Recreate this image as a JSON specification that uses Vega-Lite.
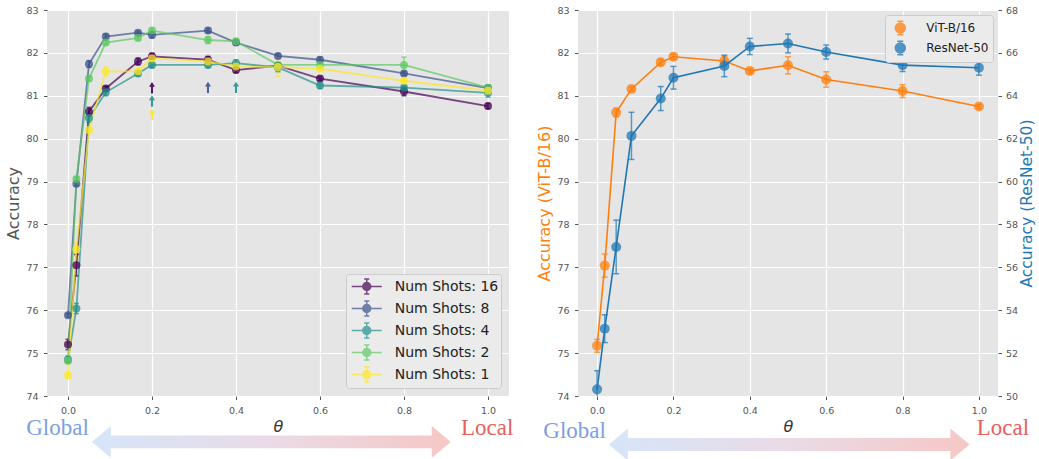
{
  "$schema": "https://vega.github.io/schema/vega-lite/v6.json",
  "background": "white",
  "padding": {"left": 5, "top": 5, "right": 0, "bottom": 0},
  "spacing": 22,
  "datasets": {
    "shots": [
      {"theta": 0, "acc": 75.2, "err": 0.12, "shots": "Num Shots: 16"},
      {"theta": 0.02, "acc": 77.05, "err": 0.25, "shots": "Num Shots: 16"},
      {"theta": 0.05, "acc": 80.63, "err": 0.1, "shots": "Num Shots: 16"},
      {"theta": 0.09, "acc": 81.17, "err": 0.05, "shots": "Num Shots: 16"},
      {"theta": 0.1667, "acc": 81.8, "err": 0.08, "shots": "Num Shots: 16"},
      {"theta": 0.2, "acc": 81.92, "err": 0.07, "shots": "Num Shots: 16"},
      {"theta": 0.3333, "acc": 81.84, "err": 0.08, "shots": "Num Shots: 16"},
      {"theta": 0.4, "acc": 81.6, "err": 0.06, "shots": "Num Shots: 16"},
      {"theta": 0.5, "acc": 81.7, "err": 0.07, "shots": "Num Shots: 16"},
      {"theta": 0.6, "acc": 81.4, "err": 0.05, "shots": "Num Shots: 16"},
      {"theta": 0.8, "acc": 81.1, "err": 0.1, "shots": "Num Shots: 16"},
      {"theta": 1.0, "acc": 80.76, "err": 0.06, "shots": "Num Shots: 16"},
      {"theta": 0, "acc": 75.88, "err": 0.04, "shots": "Num Shots: 8"},
      {"theta": 0.02, "acc": 78.95, "err": 0.05, "shots": "Num Shots: 8"},
      {"theta": 0.05, "acc": 81.74, "err": 0.08, "shots": "Num Shots: 8"},
      {"theta": 0.09, "acc": 82.38, "err": 0.06, "shots": "Num Shots: 8"},
      {"theta": 0.1667, "acc": 82.47, "err": 0.04, "shots": "Num Shots: 8"},
      {"theta": 0.2, "acc": 82.42, "err": 0.07, "shots": "Num Shots: 8"},
      {"theta": 0.3333, "acc": 82.52, "err": 0.05, "shots": "Num Shots: 8"},
      {"theta": 0.4, "acc": 82.24, "err": 0.05, "shots": "Num Shots: 8"},
      {"theta": 0.5, "acc": 81.93, "err": 0.05, "shots": "Num Shots: 8"},
      {"theta": 0.6, "acc": 81.84, "err": 0.06, "shots": "Num Shots: 8"},
      {"theta": 0.8, "acc": 81.52, "err": 0.05, "shots": "Num Shots: 8"},
      {"theta": 1.0, "acc": 81.18, "err": 0.07, "shots": "Num Shots: 8"},
      {"theta": 0, "acc": 74.85, "err": 0.08, "shots": "Num Shots: 4"},
      {"theta": 0.02, "acc": 76.04, "err": 0.12, "shots": "Num Shots: 4"},
      {"theta": 0.05, "acc": 80.48, "err": 0.1, "shots": "Num Shots: 4"},
      {"theta": 0.09, "acc": 81.08, "err": 0.08, "shots": "Num Shots: 4"},
      {"theta": 0.1667, "acc": 81.52, "err": 0.06, "shots": "Num Shots: 4"},
      {"theta": 0.2, "acc": 81.72, "err": 0.06, "shots": "Num Shots: 4"},
      {"theta": 0.3333, "acc": 81.72, "err": 0.06, "shots": "Num Shots: 4"},
      {"theta": 0.4, "acc": 81.76, "err": 0.08, "shots": "Num Shots: 4"},
      {"theta": 0.5, "acc": 81.66, "err": 0.1, "shots": "Num Shots: 4"},
      {"theta": 0.6, "acc": 81.24, "err": 0.07, "shots": "Num Shots: 4"},
      {"theta": 0.8, "acc": 81.19, "err": 0.05, "shots": "Num Shots: 4"},
      {"theta": 1.0, "acc": 81.07, "err": 0.1, "shots": "Num Shots: 4"},
      {"theta": 0, "acc": 74.82, "err": 0.05, "shots": "Num Shots: 2"},
      {"theta": 0.02, "acc": 79.06, "err": 0.05, "shots": "Num Shots: 2"},
      {"theta": 0.05, "acc": 81.4, "err": 0.05, "shots": "Num Shots: 2"},
      {"theta": 0.09, "acc": 82.24, "err": 0.05, "shots": "Num Shots: 2"},
      {"theta": 0.1667, "acc": 82.35, "err": 0.05, "shots": "Num Shots: 2"},
      {"theta": 0.2, "acc": 82.52, "err": 0.05, "shots": "Num Shots: 2"},
      {"theta": 0.3333, "acc": 82.3, "err": 0.08, "shots": "Num Shots: 2"},
      {"theta": 0.4, "acc": 82.27, "err": 0.05, "shots": "Num Shots: 2"},
      {"theta": 0.5, "acc": 81.72, "err": 0.05, "shots": "Num Shots: 2"},
      {"theta": 0.6, "acc": 81.72, "err": 0.05, "shots": "Num Shots: 2"},
      {"theta": 0.8, "acc": 81.72, "err": 0.18, "shots": "Num Shots: 2"},
      {"theta": 1.0, "acc": 81.19, "err": 0.05, "shots": "Num Shots: 2"},
      {"theta": 0, "acc": 74.48, "err": 0.05, "shots": "Num Shots: 1"},
      {"theta": 0.02, "acc": 77.42, "err": 0.15, "shots": "Num Shots: 1"},
      {"theta": 0.05, "acc": 80.2, "err": 0.05, "shots": "Num Shots: 1"},
      {"theta": 0.09, "acc": 81.57, "err": 0.1, "shots": "Num Shots: 1"},
      {"theta": 0.1667, "acc": 81.57, "err": 0.06, "shots": "Num Shots: 1"},
      {"theta": 0.2, "acc": 81.87, "err": 0.05, "shots": "Num Shots: 1"},
      {"theta": 0.3333, "acc": 81.8, "err": 0.05, "shots": "Num Shots: 1"},
      {"theta": 0.4, "acc": 81.68, "err": 0.05, "shots": "Num Shots: 1"},
      {"theta": 0.5, "acc": 81.67, "err": 0.22, "shots": "Num Shots: 1"},
      {"theta": 0.6, "acc": 81.63, "err": 0.05, "shots": "Num Shots: 1"},
      {"theta": 0.8, "acc": 81.35, "err": 0.05, "shots": "Num Shots: 1"},
      {"theta": 1.0, "acc": 81.12, "err": 0.05, "shots": "Num Shots: 1"}
    ],
    "best": [
      {"theta": 0.2, "acc": 81.18, "shots": "Num Shots: 16"},
      {"theta": 0.3333, "acc": 81.19, "shots": "Num Shots: 8"},
      {"theta": 0.2, "acc": 80.87, "shots": "Num Shots: 4"},
      {"theta": 0.4, "acc": 81.19, "shots": "Num Shots: 4"},
      {"theta": 0.2, "acc": 80.56, "shots": "Num Shots: 1"}
    ],
    "models": [
      {"theta": 0, "acc": 75.17, "err": 0.15, "model": "ViT-B/16"},
      {"theta": 0.02, "acc": 77.04, "err": 0.27, "model": "ViT-B/16"},
      {"theta": 0.05, "acc": 80.61, "err": 0.1, "model": "ViT-B/16"},
      {"theta": 0.09, "acc": 81.16, "err": 0.05, "model": "ViT-B/16"},
      {"theta": 0.1667, "acc": 81.78, "err": 0.07, "model": "ViT-B/16"},
      {"theta": 0.2, "acc": 81.91, "err": 0.06, "model": "ViT-B/16"},
      {"theta": 0.3333, "acc": 81.81, "err": 0.1, "model": "ViT-B/16"},
      {"theta": 0.4, "acc": 81.58, "err": 0.05, "model": "ViT-B/16"},
      {"theta": 0.5, "acc": 81.71, "err": 0.2, "model": "ViT-B/16"},
      {"theta": 0.6, "acc": 81.38, "err": 0.18, "model": "ViT-B/16"},
      {"theta": 0.8, "acc": 81.11, "err": 0.15, "model": "ViT-B/16"},
      {"theta": 1.0, "acc": 80.75, "err": 0.05, "model": "ViT-B/16"},
      {"theta": 0, "acc": 50.31, "err": 0.87, "model": "ResNet-50"},
      {"theta": 0.02, "acc": 53.14, "err": 0.65, "model": "ResNet-50"},
      {"theta": 0.05, "acc": 56.95, "err": 1.25, "model": "ResNet-50"},
      {"theta": 0.09, "acc": 62.13, "err": 1.1, "model": "ResNet-50"},
      {"theta": 0.1667, "acc": 63.87, "err": 0.56, "model": "ResNet-50"},
      {"theta": 0.2, "acc": 64.84, "err": 0.53, "model": "ResNet-50"},
      {"theta": 0.3333, "acc": 65.39, "err": 0.5, "model": "ResNet-50"},
      {"theta": 0.4, "acc": 66.3, "err": 0.38, "model": "ResNet-50"},
      {"theta": 0.5, "acc": 66.44, "err": 0.44, "model": "ResNet-50"},
      {"theta": 0.6, "acc": 66.04, "err": 0.33, "model": "ResNet-50"},
      {"theta": 0.8, "acc": 65.43, "err": 0.3, "model": "ResNet-50"},
      {"theta": 1.0, "acc": 65.31, "err": 0.35, "model": "ResNet-50"}
    ],
    "arrowL": [{"theta": 0.484, "acc": 72.93}],
    "labelsL": [
      {"theta": -0.025, "acc": 73.09, "label": "Global"},
      {"theta": 0.998, "acc": 73.1, "label": "Local"}
    ],
    "arrowR": [{"theta": 0.503, "acc": 72.87}],
    "labelsR": [
      {"theta": -0.059, "acc": 73.03, "label": "Global"},
      {"theta": 1.063, "acc": 73.08, "label": "Local"}
    ]
  },
  "hconcat": [
    {
      "width": 462,
      "height": 386,
      "encoding": {
        "x": {"field": "theta", "type": "quantitative", "scale": {"domain": [-0.05, 1.05], "nice": false, "zero": false}, "axis": {"values": [0, 0.2, 0.4, 0.6, 0.8, 1.0], "format": ".1f", "title": "θ", "titleFontStyle": "italic", "titleColor": "#333333", "grid": true}},
        "y": {"field": "acc", "type": "quantitative", "scale": {"domain": [74, 83], "nice": false, "zero": false}, "axis": {"values": [74, 75, 76, 77, 78, 79, 80, 81, 82, 83], "title": "Accuracy", "grid": true}}
      },
      "layer": [
        {
          "data": {"name": "arrowL"},
          "mark": {"type": "point", "filled": true, "size": 128881, "strokeWidth": 0, "opacity": 1,
            "shape": "M -1 0 L -0.894 -0.089 L -0.894 -0.036 L 0.894 -0.036 L 0.894 -0.089 L 1 0 L 0.894 0.089 L 0.894 0.036 L -0.894 0.036 L -0.894 0.089 Z",
            "fill": {"gradient": "linear", "x1": 0, "y1": 0, "x2": 1, "y2": 0, "stops": [{"offset": 0, "color": "#d6e5f9"}, {"offset": 0.5, "color": "#eadbe6"}, {"offset": 1, "color": "#f6c7c6"}]}}
        },
        {
          "data": {"name": "labelsL"},
          "mark": {"type": "text", "font": "Liberation Serif", "fontSize": 23, "baseline": "alphabetic", "align": "center"},
          "encoding": {
            "text": {"field": "label"},
            "color": {"condition": {"test": "datum.label === 'Global'", "value": "#7aa0e2"}, "value": "#e8605d"}
          }
        },
        {
          "data": {"name": "shots"},
          "mark": {"type": "errorbar", "ticks": true, "size": 5, "thickness": 1.5, "opacity": 0.7},
          "encoding": {
            "yError": {"field": "err"},
            "color": {"field": "shots", "type": "nominal", "scale": {"domain": ["Num Shots: 16", "Num Shots: 8", "Num Shots: 4", "Num Shots: 2", "Num Shots: 1"], "range": ["#440154", "#3b528b", "#21918c", "#5ec962", "#fde725"]},
              "legend": {"title": null, "orient": "bottom-right", "offset": 8, "symbolType": "M -1.54 0 L 1.54 0 M 0 -0.77 L 0 0.77 M -0.26 -0.77 L 0.26 -0.77 M -0.26 0.77 L 0.26 0.77 M -0.41 0 A 0.41 0.41 0 1 0 0.41 0 A 0.41 0.41 0 1 0 -0.41 0 Z", "symbolSize": 380, "symbolOffset": 8.25, "symbolStrokeWidth": 1.5, "symbolOpacity": 0.75, "labelFontSize": 14, "labelColor": "#222222", "labelOffset": 17.5, "fillColor": "#ebebeb", "strokeColor": "#cccccc", "cornerRadius": 3, "padding": 2, "rowPadding": -1.7}}
          }
        },
        {
          "data": {"name": "shots"},
          "mark": {"type": "line", "opacity": 0.7, "strokeWidth": 1.8},
          "encoding": {
            "color": {"field": "shots", "type": "nominal"}
          }
        },
        {
          "data": {"name": "shots"},
          "mark": {"type": "point", "filled": true, "size": 64, "opacity": 0.75, "shape": "circle"},
          "encoding": {
            "color": {"field": "shots", "type": "nominal"}
          }
        },
        {
          "data": {"name": "best"},
          "mark": {"type": "point", "filled": true, "size": 144, "opacity": 0.9, "strokeWidth": 0, "shape": "M 0 -1 L 0.5 -0.2 L 0.17 -0.2 L 0.17 0.9 L -0.17 0.9 L -0.17 -0.2 L -0.5 -0.2 Z"},
          "encoding": {
            "color": {"field": "shots", "type": "nominal"}
          }
        }
      ]
    },
    {
      "width": 420,
      "height": 386,
      "encoding": {
        "x": {"field": "theta", "type": "quantitative", "scale": {"domain": [-0.05, 1.05], "nice": false, "zero": false}, "axis": {"values": [0, 0.2, 0.4, 0.6, 0.8, 1.0], "format": ".1f", "title": "θ", "titleFontStyle": "italic", "titleColor": "#333333", "grid": true}}
      },
      "layer": [
        {
          "encoding": {
            "y": {"field": "acc", "type": "quantitative", "scale": {"domain": [74, 83], "nice": false, "zero": false}, "axis": {"values": [74, 75, 76, 77, 78, 79, 80, 81, 82, 83], "title": "Accuracy (ViT-B/16)", "titleColor": "#ff7f0e", "grid": true}}
          },
          "layer": [
            {
              "data": {"name": "arrowR"},
              "mark": {"type": "point", "filled": true, "size": 130105, "strokeWidth": 0, "opacity": 1,
                "shape": "M -1 0 L -0.894 -0.089 L -0.894 -0.036 L 0.894 -0.036 L 0.894 -0.089 L 1 0 L 0.894 0.089 L 0.894 0.036 L -0.894 0.036 L -0.894 0.089 Z",
                "fill": {"gradient": "linear", "x1": 0, "y1": 0, "x2": 1, "y2": 0, "stops": [{"offset": 0, "color": "#d6e5f9"}, {"offset": 0.5, "color": "#eadbe6"}, {"offset": 1, "color": "#f6c7c6"}]}}
            },
            {
              "data": {"name": "labelsR"},
              "mark": {"type": "text", "font": "Liberation Serif", "fontSize": 23, "baseline": "alphabetic", "align": "center"},
              "encoding": {
                "text": {"field": "label"},
                "color": {"condition": {"test": "datum.label === 'Global'", "value": "#7aa0e2"}, "value": "#e8605d"}
              }
            },
            {
              "data": {"name": "models"},
              "transform": [{"filter": "datum.model === 'ViT-B/16'"}],
              "mark": {"type": "errorbar", "ticks": true, "size": 6, "thickness": 1.5, "opacity": 0.7, "clip": true},
              "encoding": {
                "yError": {"field": "err"},
                "color": {"field": "model", "type": "nominal", "scale": {"domain": ["ViT-B/16", "ResNet-50"], "range": ["#ff7f0e", "#1f77b4"]},
                  "legend": {"title": null, "orient": "top-right", "offset": 5, "symbolType": "M 0 -0.84 L 0 0.84 M -0.375 -0.84 L 0.375 -0.84 M -0.375 0.84 L 0.375 0.84 M -0.625 0 A 0.625 0.625 0 1 0 0.625 0 A 0.625 0.625 0 1 0 -0.625 0 Z", "symbolSize": 256, "symbolOffset": 2.3, "symbolStrokeWidth": 1.5, "symbolOpacity": 0.75, "labelFontSize": 12, "labelColor": "#222222", "labelOffset": 17, "fillColor": "#ebebeb", "strokeColor": "#cccccc", "cornerRadius": 3, "padding": 4, "rowPadding": 0}}
              }
            },
            {
              "data": {"name": "models"},
              "transform": [{"filter": "datum.model === 'ViT-B/16'"}],
              "mark": {"type": "line", "strokeWidth": 1.6},
              "encoding": {"color": {"field": "model", "type": "nominal"}}
            },
            {
              "data": {"name": "models"},
              "transform": [{"filter": "datum.model === 'ViT-B/16'"}],
              "mark": {"type": "point", "filled": true, "size": 100, "opacity": 0.75, "shape": "circle"},
              "encoding": {"color": {"field": "model", "type": "nominal"}}
            }
          ]
        },
        {
          "data": {"name": "models"},
          "transform": [{"filter": "datum.model === 'ResNet-50'"}],
          "encoding": {
            "y": {"field": "acc", "type": "quantitative", "scale": {"domain": [50, 68], "nice": false, "zero": false}, "axis": {"orient": "right", "values": [50, 52, 54, 56, 58, 60, 62, 64, 66, 68], "title": "Accuracy (ResNet-50)", "titleColor": "#1f77b4", "titleAngle": 270, "titleBaseline": "top", "titlePadding": 2, "titleFontSize": 15.5, "labelPadding": 4, "grid": false}},
            "color": {"field": "model", "type": "nominal"}
          },
          "layer": [
            {
              "mark": {"type": "errorbar", "ticks": true, "size": 6, "thickness": 1.5, "opacity": 0.7, "clip": true},
              "encoding": {"yError": {"field": "err"}}
            },
            {"mark": {"type": "line", "strokeWidth": 1.6}},
            {"mark": {"type": "point", "filled": true, "size": 100, "opacity": 0.75, "shape": "circle"}}
          ]
        }
      ],
      "resolve": {"scale": {"y": "independent"}}
    }
  ],
  "resolve": {"scale": {"color": "independent", "x": "independent", "y": "independent"}, "legend": {"color": "independent"}},
  "config": {
    "font": "DejaVu Sans",
    "view": {"fill": "#e5e5e5", "stroke": null},
    "axis": {"domain": false, "gridColor": "#ffffff", "gridWidth": 1.2, "tickColor": "#555555", "tickSize": 3.5, "labelColor": "#555555", "labelFontSize": 9.5, "labelPadding": 5.5, "titleFontSize": 16, "titleFontWeight": "normal", "titleColor": "#555555", "titlePadding": 4}
  }
}
